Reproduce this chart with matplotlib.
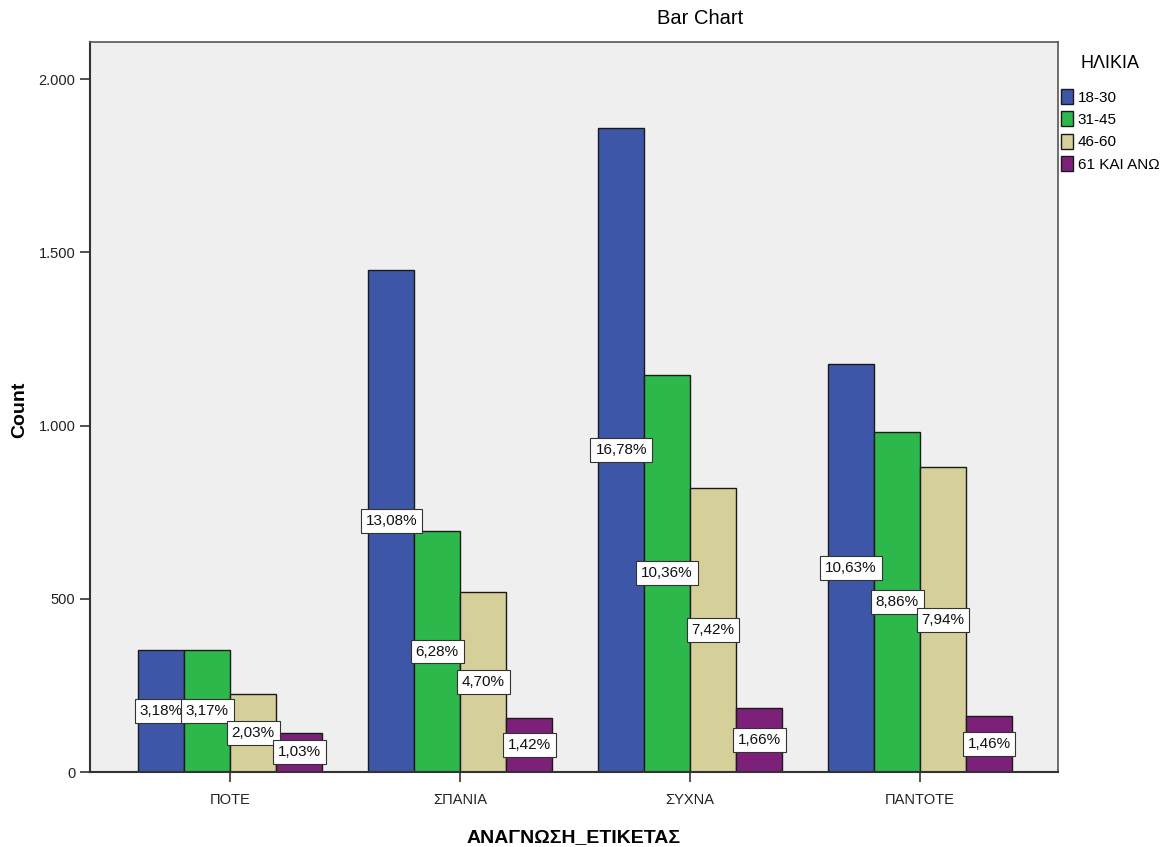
import matplotlib
matplotlib.use("Agg")
import matplotlib.pyplot as plt
import numpy as np
from matplotlib.ticker import FuncFormatter

categories = ["ΠΟΤΕ", "ΣΠΑΝΙΑ", "ΣΥΧΝΑ", "ΠΑΝΤΟΤΕ"]
groups = ["18-30", "31-45", "46-60", "61 ΚΑΙ ΑΝΩ"]
counts = {
    "18-30": [352, 1448, 1858, 1177],
    "31-45": [351, 695, 1147, 981],
    "46-60": [225, 520, 821, 879],
    "61 ΚΑΙ ΑΝΩ": [114, 157, 184, 162],
}
percent_labels = {
    "18-30": ["3,18%", "13,08%", "16,78%", "10,63%"],
    "31-45": ["3,17%", "6,28%", "10,36%", "8,86%"],
    "46-60": ["2,03%", "4,70%", "7,42%", "7,94%"],
    "61 ΚΑΙ ΑΝΩ": ["1,03%", "1,42%", "1,66%", "1,46%"],
}
colors = ["#3D56A8", "#2DB84B", "#D5D09A", "#7D2079"]

plt.rcParams['font.family'] = ['Liberation Sans', 'DejaVu Sans']

fig = plt.figure(figsize=(11.71, 8.47), dpi=100)
ax = fig.add_axes([90/1171, 75/847, (1058-90)/1171, (772-42)/847])
ax.set_facecolor("#EFEFEF")

x = np.arange(len(categories))
w = 0.2
for i, g in enumerate(groups):
    xs = x + (i - 1.5) * w
    ax.bar(xs, counts[g], width=w, color=colors[i], edgecolor="#1a1a1a",
           linewidth=1.0, label=g, zorder=2)
    for xi, c, lab in zip(xs, counts[g], percent_labels[g]):
        ax.text(xi, c / 2, lab, ha="center", va="center", fontsize=11,
                color="#111111", zorder=4,
                bbox=dict(boxstyle="square,pad=0.32", fc="white", ec="#333333", lw=0.8))

ax.set_xlim(-0.61, 3.60)
ax.set_ylim(0, 2107)
ax.set_xticks(x)
ax.set_xticklabels(categories, fontsize=10.5, color="#222222")
ax.set_yticks([0, 500, 1000, 1500, 2000])
ax.yaxis.set_major_formatter(FuncFormatter(lambda v, p: f"{int(v):,}".replace(",", ".")))
ax.tick_params(axis="y", labelsize=10.5, labelcolor="#222222", length=7, width=1.2, color="#333333")
ax.tick_params(axis="x", length=7, width=1.2, color="#333333", pad=8)

for s in ["left", "bottom"]:
    ax.spines[s].set_color("#333333")
    ax.spines[s].set_linewidth(1.5)
for s in ["top", "right"]:
    ax.spines[s].set_color("#555555")
    ax.spines[s].set_linewidth(1.2)

fig.text(20/1171, 1 - 410/847, "Count", rotation=90, ha="center", va="center",
         fontsize=14, fontweight="bold")
ax.set_xlabel("ΑΝΑΓΝΩΣΗ_ΕΤΙΚΕΤΑΣ", fontsize=14, fontweight="bold", labelpad=16)

fig.text(700/1171, 1 - 18/847, "Bar Chart", ha="center", va="center", fontsize=14.5)

fig.text(1080/1171, 1 - 63/847, "ΗΛΙΚΙΑ", ha="left", va="center", fontsize=13)
leg = fig.legend(loc="upper left", bbox_to_anchor=(1058/1171, 1 - 86/847),
                 frameon=False, fontsize=11,
                 handlelength=0.8, handleheight=1.1, handletextpad=0.3,
                 labelspacing=0.45, borderaxespad=0, borderpad=0.2)

fig.savefig("out.png", dpi=100, facecolor="white")
